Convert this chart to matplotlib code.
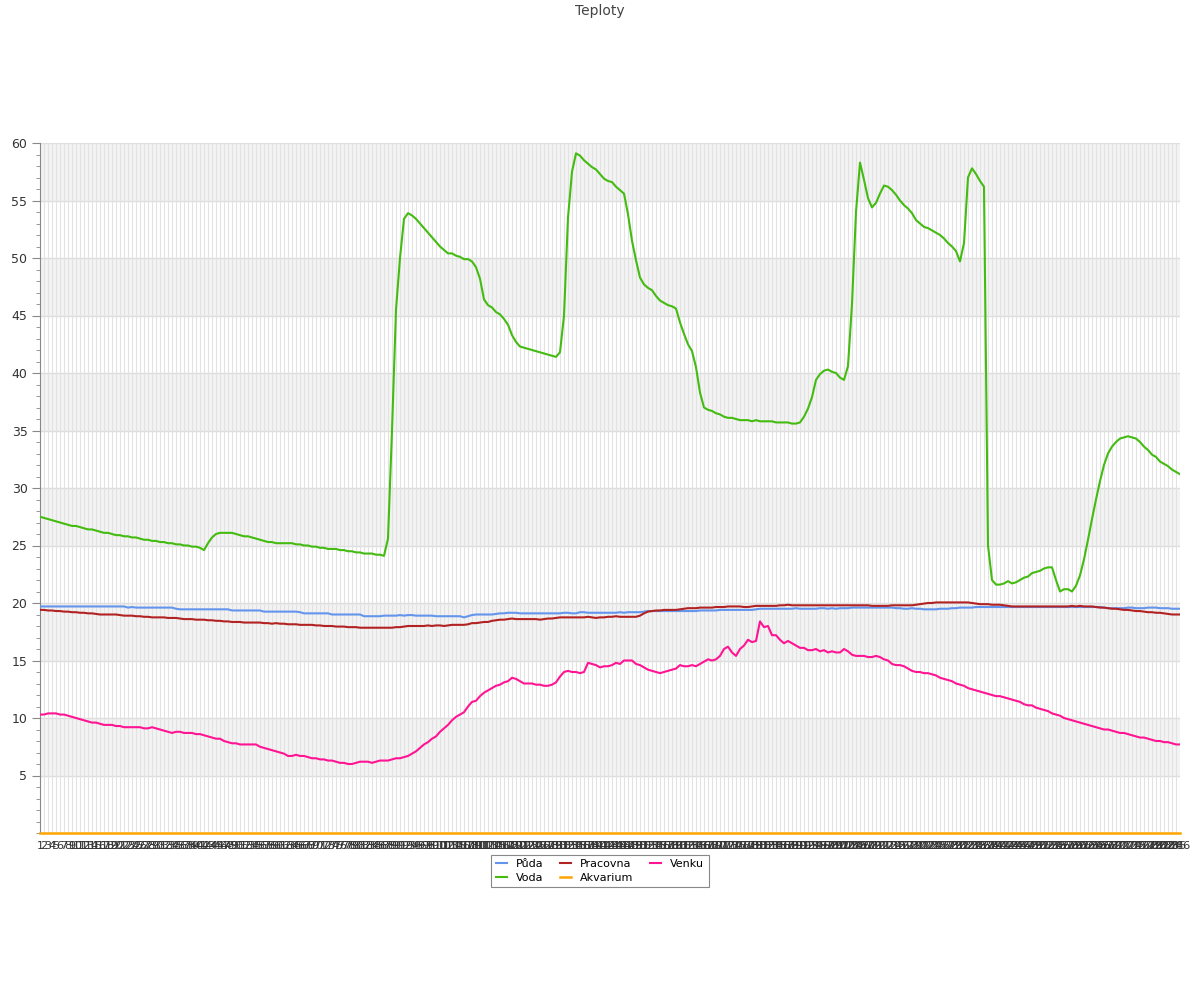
import matplotlib
matplotlib.use('Agg')
import matplotlib.pyplot as plt
from matplotlib.ticker import MultipleLocator

# Data (one value per category, 286 categories)
voda = [
    27.5, 27.4, 27.3, 27.2, 27.1, 27.0, 26.9, 26.8, 26.7, 26.7,
    26.6, 26.5, 26.4, 26.4, 26.3, 26.2, 26.1, 26.1, 26.0, 25.9,
    25.9, 25.8, 25.8, 25.7, 25.7, 25.6, 25.5, 25.5, 25.4, 25.4,
    25.3, 25.3, 25.2, 25.2, 25.1, 25.1, 25.0, 25.0, 24.9, 24.9,
    24.8, 24.6, 25.2, 25.7, 26.0, 26.1, 26.1, 26.1, 26.1, 26.0,
    25.9, 25.8, 25.8, 25.7, 25.6, 25.5, 25.4, 25.3, 25.3, 25.2,
    25.2, 25.2, 25.2, 25.2, 25.1, 25.1, 25.0, 25.0, 24.9, 24.9,
    24.8, 24.8, 24.7, 24.7, 24.7, 24.6, 24.6, 24.5, 24.5, 24.4,
    24.4, 24.3, 24.3, 24.3, 24.2, 24.2, 24.1, 25.6, 35.0, 45.5,
    50.0, 53.4, 53.9, 53.7, 53.4, 53.0, 52.6, 52.2, 51.8, 51.4,
    51.0, 50.7, 50.4, 50.4, 50.2, 50.1, 49.9, 49.9, 49.7, 49.2,
    48.2, 46.4, 45.9, 45.7, 45.3, 45.1, 44.7, 44.2, 43.3, 42.7,
    42.3, 42.2, 42.1, 42.0, 41.9, 41.8, 41.7, 41.6, 41.5, 41.4,
    41.8, 45.0, 53.5, 57.5, 59.1, 58.9, 58.5, 58.2, 57.9, 57.7,
    57.3, 56.9, 56.7, 56.6, 56.2, 55.9, 55.6, 53.8, 51.5, 49.8,
    48.3, 47.7, 47.4, 47.2, 46.7, 46.3, 46.1, 45.9, 45.8, 45.6,
    44.4, 43.4, 42.5, 41.9, 40.5, 38.3, 37.0, 36.8, 36.7, 36.5,
    36.4, 36.2, 36.1, 36.1, 36.0, 35.9, 35.9, 35.9, 35.8, 35.9,
    35.8, 35.8, 35.8, 35.8, 35.7, 35.7, 35.7, 35.7, 35.6, 35.6,
    35.7, 36.2, 36.9, 37.9, 39.4, 39.9, 40.2, 40.3, 40.1, 40.0,
    39.6, 39.4, 40.6, 46.0, 54.0, 58.3, 56.8, 55.2, 54.4, 54.8,
    55.6, 56.3, 56.2, 55.9, 55.5, 55.0, 54.6, 54.3, 53.9, 53.3,
    53.0, 52.7, 52.6, 52.4, 52.2, 52.0, 51.7, 51.3, 51.0, 50.6,
    49.7, 51.3, 57.0, 57.8, 57.3, 56.7, 56.2, 25.0, 22.0, 21.6,
    21.6, 21.7, 21.9, 21.7, 21.8, 22.0, 22.2, 22.3, 22.6, 22.7,
    22.8, 23.0, 23.1, 23.1, 22.0, 21.0, 21.2, 21.2, 21.0, 21.5,
    22.4, 23.8, 25.5, 27.3, 29.0, 30.6, 32.0, 33.0, 33.6, 34.0,
    34.3, 34.4, 34.5, 34.4, 34.3, 34.0, 33.6, 33.3, 32.9, 32.7,
    32.3, 32.1, 31.9, 31.6, 31.4, 31.2,
]

venku = [
    10.3, 10.3, 10.4, 10.4, 10.4, 10.3, 10.3, 10.2, 10.1, 10.0,
    9.9, 9.8, 9.7, 9.6, 9.6, 9.5, 9.4, 9.4, 9.4, 9.3,
    9.3, 9.2, 9.2, 9.2, 9.2, 9.2, 9.1, 9.1, 9.2, 9.1,
    9.0, 8.9, 8.8, 8.7, 8.8, 8.8, 8.7, 8.7, 8.7, 8.6,
    8.6, 8.5, 8.4, 8.3, 8.2, 8.2, 8.0, 7.9, 7.8, 7.8,
    7.7, 7.7, 7.7, 7.7, 7.7, 7.5, 7.4, 7.3, 7.2, 7.1,
    7.0, 6.9, 6.7, 6.7, 6.8, 6.7, 6.7, 6.6, 6.5, 6.5,
    6.4, 6.4, 6.3, 6.3, 6.2, 6.1, 6.1, 6.0, 6.0, 6.1,
    6.2, 6.2, 6.2, 6.1, 6.2, 6.3, 6.3, 6.3, 6.4, 6.5,
    6.5, 6.6, 6.7, 6.9, 7.1, 7.4, 7.7, 7.9, 8.2, 8.4,
    8.8, 9.1, 9.4, 9.8, 10.1, 10.3, 10.5, 11.0, 11.4, 11.5,
    11.9, 12.2, 12.4, 12.6, 12.8, 12.9, 13.1, 13.2, 13.5, 13.4,
    13.2, 13.0, 13.0, 13.0, 12.9, 12.9, 12.8, 12.8, 12.9, 13.1,
    13.6, 14.0, 14.1, 14.0, 14.0, 13.9, 14.0, 14.8, 14.7, 14.6,
    14.4, 14.5, 14.5, 14.6, 14.8, 14.7, 15.0, 15.0, 15.0, 14.7,
    14.6, 14.4, 14.2, 14.1, 14.0, 13.9, 14.0, 14.1, 14.2, 14.3,
    14.6, 14.5, 14.5, 14.6, 14.5, 14.7, 14.9, 15.1, 15.0, 15.1,
    15.4, 16.0, 16.2, 15.7, 15.4, 16.0, 16.3, 16.8, 16.6, 16.7,
    18.4, 17.9, 18.0, 17.2, 17.2, 16.8, 16.5, 16.7, 16.5, 16.3,
    16.1, 16.1, 15.9, 15.9, 16.0, 15.8, 15.9, 15.7, 15.8, 15.7,
    15.7, 16.0, 15.8, 15.5, 15.4, 15.4, 15.4, 15.3, 15.3, 15.4,
    15.3, 15.1, 15.0, 14.7, 14.6, 14.6, 14.5, 14.3, 14.1, 14.0,
    14.0, 13.9, 13.9, 13.8, 13.7, 13.5, 13.4, 13.3, 13.2, 13.0,
    12.9, 12.8, 12.6, 12.5, 12.4, 12.3, 12.2, 12.1, 12.0, 11.9,
    11.9, 11.8, 11.7, 11.6, 11.5, 11.4, 11.2, 11.1, 11.1, 10.9,
    10.8, 10.7, 10.6, 10.4, 10.3, 10.2, 10.0, 9.9, 9.8, 9.7,
    9.6, 9.5, 9.4, 9.3, 9.2, 9.1, 9.0, 9.0, 8.9, 8.8,
    8.7, 8.7, 8.6, 8.5, 8.4, 8.3, 8.3, 8.2, 8.1, 8.0,
    8.0, 7.9, 7.9, 7.8, 7.7, 7.7,
]

puda = [
    19.7, 19.7, 19.7, 19.7, 19.7, 19.7, 19.7, 19.7, 19.7, 19.7,
    19.7, 19.7, 19.7, 19.7, 19.7, 19.7, 19.7, 19.7, 19.7, 19.7,
    19.7, 19.7, 19.6, 19.65, 19.6, 19.6, 19.6, 19.6, 19.6, 19.6,
    19.6, 19.6, 19.6, 19.6, 19.5, 19.45, 19.45, 19.45, 19.45, 19.45,
    19.45, 19.45, 19.45, 19.45, 19.45, 19.45, 19.45, 19.45, 19.35, 19.35,
    19.35, 19.35, 19.35, 19.35, 19.35, 19.35, 19.25, 19.25, 19.25, 19.25,
    19.25, 19.25, 19.25, 19.25, 19.25, 19.2, 19.1, 19.1, 19.1, 19.1,
    19.1, 19.1, 19.1, 19.0, 19.0, 19.0, 19.0, 19.0, 19.0, 19.0,
    19.0, 18.85, 18.85, 18.85, 18.85, 18.85, 18.9, 18.9, 18.9, 18.9,
    18.95, 18.9, 18.95, 18.95, 18.9, 18.9, 18.9, 18.9, 18.9, 18.85,
    18.85, 18.85, 18.85, 18.85, 18.85, 18.85, 18.75, 18.85, 18.95, 19.0,
    19.0, 19.0, 19.0, 19.0, 19.05, 19.1, 19.1, 19.15, 19.15, 19.15,
    19.1, 19.1, 19.1, 19.1, 19.1, 19.1, 19.1, 19.1, 19.1, 19.1,
    19.1, 19.15, 19.15, 19.1, 19.1, 19.2, 19.2, 19.15, 19.15, 19.15,
    19.15, 19.15, 19.15, 19.15, 19.15, 19.2, 19.15, 19.2, 19.2, 19.2,
    19.2, 19.25, 19.3, 19.3, 19.3, 19.3, 19.3, 19.3, 19.3, 19.3,
    19.3, 19.3, 19.3, 19.3, 19.3, 19.35, 19.35, 19.35, 19.35, 19.35,
    19.4, 19.4, 19.4, 19.4, 19.4, 19.4, 19.4, 19.4, 19.4, 19.45,
    19.5, 19.5, 19.5, 19.5, 19.5, 19.5, 19.5, 19.5, 19.5, 19.55,
    19.5, 19.5, 19.5, 19.5, 19.5, 19.55, 19.55, 19.5, 19.55, 19.5,
    19.55, 19.55, 19.55, 19.6, 19.6, 19.6, 19.6, 19.6, 19.6, 19.6,
    19.6, 19.6, 19.6, 19.6, 19.55, 19.55, 19.5, 19.5, 19.55, 19.5,
    19.5, 19.45, 19.45, 19.45, 19.45, 19.5, 19.5, 19.5, 19.55, 19.55,
    19.6, 19.6, 19.6, 19.6, 19.65, 19.65, 19.65, 19.65, 19.65, 19.65,
    19.65, 19.65, 19.65, 19.65, 19.65, 19.65, 19.65, 19.65, 19.65, 19.65,
    19.65, 19.65, 19.65, 19.65, 19.65, 19.65, 19.65, 19.65, 19.65, 19.65,
    19.65, 19.65, 19.65, 19.65, 19.65, 19.65, 19.6, 19.55, 19.55, 19.55,
    19.55, 19.55, 19.6, 19.6, 19.55, 19.55, 19.55, 19.6, 19.6, 19.6,
    19.55, 19.55, 19.55, 19.5, 19.5, 19.5,
]

pracovna = [
    19.4, 19.4, 19.35, 19.35, 19.3, 19.3, 19.25, 19.25, 19.2, 19.2,
    19.15, 19.15, 19.1, 19.1, 19.05, 19.0, 19.0, 19.0, 19.0, 19.0,
    18.95, 18.9, 18.9, 18.9, 18.85, 18.85, 18.8, 18.8, 18.75, 18.75,
    18.75, 18.75, 18.7, 18.7, 18.7, 18.65, 18.6, 18.6, 18.6, 18.55,
    18.55, 18.55, 18.5, 18.5, 18.45, 18.45, 18.4, 18.4, 18.35, 18.35,
    18.35, 18.3, 18.3, 18.3, 18.3, 18.3, 18.25, 18.25, 18.2, 18.25,
    18.2, 18.2, 18.15, 18.15, 18.15, 18.1, 18.1, 18.1, 18.1, 18.05,
    18.05, 18.0, 18.0, 18.0, 17.95, 17.95, 17.95, 17.9, 17.9, 17.9,
    17.85, 17.85, 17.85, 17.85, 17.85, 17.85, 17.85, 17.85, 17.85, 17.9,
    17.9, 17.95, 18.0, 18.0, 18.0, 18.0, 18.0, 18.05, 18.0, 18.05,
    18.05, 18.0, 18.05, 18.1, 18.1, 18.1, 18.1, 18.15, 18.25, 18.25,
    18.3, 18.35, 18.35, 18.45, 18.5, 18.55, 18.55, 18.6, 18.65, 18.6,
    18.6, 18.6, 18.6, 18.6, 18.6, 18.55, 18.6, 18.65, 18.65, 18.7,
    18.75, 18.75, 18.75, 18.75, 18.75, 18.75, 18.75, 18.8, 18.75, 18.7,
    18.75, 18.75, 18.8, 18.8, 18.85, 18.8, 18.8, 18.8, 18.8, 18.8,
    18.9, 19.1, 19.25, 19.3, 19.35, 19.35, 19.4, 19.4, 19.4, 19.4,
    19.45, 19.5, 19.55, 19.55, 19.55, 19.6, 19.6, 19.6, 19.6, 19.65,
    19.65, 19.65, 19.7, 19.7, 19.7, 19.7, 19.65, 19.65, 19.7, 19.75,
    19.75, 19.75, 19.75, 19.75, 19.75, 19.8, 19.8, 19.85, 19.8, 19.8,
    19.8, 19.8, 19.8, 19.8, 19.8, 19.8, 19.8, 19.8, 19.8, 19.8,
    19.8, 19.8, 19.8, 19.8, 19.8, 19.8, 19.8, 19.8, 19.75, 19.75,
    19.75, 19.75, 19.75, 19.8, 19.8, 19.8, 19.8, 19.8, 19.8, 19.85,
    19.9, 19.95, 20.0, 20.0, 20.05, 20.05, 20.05, 20.05, 20.05, 20.05,
    20.05, 20.05, 20.05, 20.0, 19.95, 19.9, 19.9, 19.9, 19.85, 19.85,
    19.85, 19.8, 19.75, 19.7, 19.7, 19.7, 19.7, 19.7, 19.7, 19.7,
    19.7, 19.7, 19.7, 19.7, 19.7, 19.7, 19.7, 19.7, 19.75, 19.7,
    19.75, 19.7, 19.7, 19.7, 19.65, 19.6, 19.6, 19.55, 19.5, 19.5,
    19.45, 19.4, 19.4, 19.35, 19.3, 19.3, 19.25, 19.2, 19.2, 19.15,
    19.15, 19.1, 19.05, 19.0, 19.0, 19.0,
]

akvarium = [
    0, 0, 0, 0, 0, 0, 0, 0, 0, 0, 0, 0, 0, 0, 0, 0, 0, 0, 0, 0,
    0, 0, 0, 0, 0, 0, 0, 0, 0, 0, 0, 0, 0, 0, 0, 0, 0, 0, 0, 0,
    0, 0, 0, 0, 0, 0, 0, 0, 0, 0, 0, 0, 0, 0, 0, 0, 0, 0, 0, 0,
    0, 0, 0, 0, 0, 0, 0, 0, 0, 0, 0, 0, 0, 0, 0, 0, 0, 0, 0, 0,
    0, 0, 0, 0, 0, 0, 0, 0, 0, 0, 0, 0, 0, 0, 0, 0, 0, 0, 0, 0,
    0, 0, 0, 0, 0, 0, 0, 0, 0, 0, 0, 0, 0, 0, 0, 0, 0, 0, 0, 0,
    0, 0, 0, 0, 0, 0, 0, 0, 0, 0, 0, 0, 0, 0, 0, 0, 0, 0, 0, 0,
    0, 0, 0, 0, 0, 0, 0, 0, 0, 0, 0, 0, 0, 0, 0, 0, 0, 0, 0, 0,
    0, 0, 0, 0, 0, 0, 0, 0, 0, 0, 0, 0, 0, 0, 0, 0, 0, 0, 0, 0,
    0, 0, 0, 0, 0, 0, 0, 0, 0, 0, 0, 0, 0, 0, 0, 0, 0, 0, 0, 0,
    0, 0, 0, 0, 0, 0, 0, 0, 0, 0, 0, 0, 0, 0, 0, 0, 0, 0, 0, 0,
    0, 0, 0, 0, 0, 0, 0, 0, 0, 0, 0, 0, 0, 0, 0, 0, 0, 0, 0, 0,
    0, 0, 0, 0, 0, 0, 0, 0, 0, 0, 0, 0, 0, 0, 0, 0, 0, 0, 0, 0,
    0, 0, 0, 0, 0, 0, 0, 0, 0, 0, 0, 0, 0, 0, 0, 0, 0, 0, 0, 0,
    0, 0, 0, 0, 0, 0,
]

labels = [str(i + 1) for i in range(len(voda))]

fig = plt.figure(figsize=(12, 10), dpi=100)
ax = fig.add_axes([40 / 1200, 1 - 833 / 1000, 1140 / 1200, 690 / 1000])

x = list(range(len(voda)))

# alternating bands + grid
for lo in range(5, 60, 10):
    ax.axhspan(lo, lo + 5, color='#f3f3f3', zorder=0, lw=0)
for yv in range(5, 61, 5):
    ax.axhline(yv, color='#dddddd', lw=1, zorder=0.5)
for xi in x:
    ax.axvline(xi, color='#e2e2e2', lw=0.8, zorder=0.5)

l_puda, = ax.plot(x, puda, color='#6495ed', lw=1.5, label='Půda', zorder=3)
l_prac, = ax.plot(x, pracovna, color='#b22222', lw=1.5, label='Pracovna', zorder=3)
l_venku, = ax.plot(x, venku, color='#ff1493', lw=1.5, label='Venku', zorder=3)
l_voda, = ax.plot(x, voda, color='#44bb11', lw=1.5, label='Voda', zorder=3)
l_akv, = ax.plot(x, akvarium, color='#ffa500', lw=1.8, label='Akvarium', zorder=3,
                 clip_on=False)

ax.set_xlim(0, len(voda) - 1)
ax.set_ylim(0, 60)
ax.yaxis.set_major_locator(MultipleLocator(5))
ax.yaxis.set_minor_locator(MultipleLocator(1))
ax.set_yticks(list(range(5, 61, 5)))
ax.tick_params(axis='y', which='major', length=6, color='#888888', labelsize=9,
               labelcolor='#333333', pad=3)
ax.tick_params(axis='y', which='minor', length=3, color='#888888')
ax.set_xticks(x)
ax.set_xticklabels(labels, fontsize=8, color='#333333')
ax.tick_params(axis='x', length=0, pad=6)

for s in ['top', 'right', 'bottom']:
    ax.spines[s].set_visible(False)
ax.spines['left'].set_color('#888888')

fig.text(0.5, 1 - 11 / 1000, 'Teploty', ha='center', va='center', fontsize=10,
         color='#444444')

leg = fig.legend([l_puda, l_voda, l_prac, l_akv, l_venku],
                 ['Půda', 'Voda', 'Pracovna', 'Akvarium', 'Venku'],
                 loc='upper center', bbox_to_anchor=(0.5, 1 - 849 / 1000), ncol=3,
                 fontsize=8, handlelength=1.0, fancybox=False, edgecolor='#888888',
                 framealpha=1, borderpad=0.4, columnspacing=1.5, labelspacing=0.35)
leg.get_frame().set_linewidth(0.8)

plt.savefig('out.png', dpi=100)
